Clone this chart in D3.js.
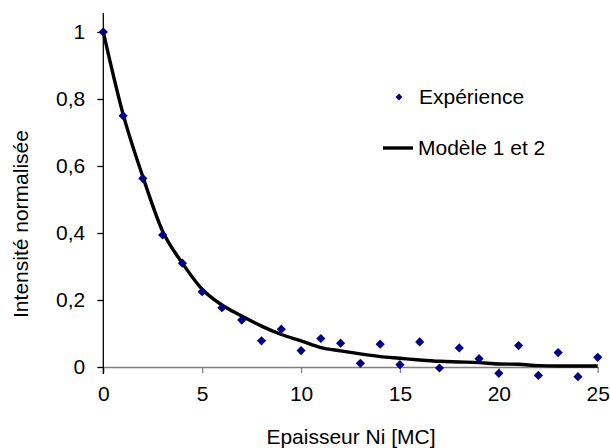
<!DOCTYPE html>
<html>
<head>
<meta charset="utf-8">
<script src="https://cdn.jsdelivr.net/npm/d3@7"></script>
<style>
  body { margin: 0; background: #fff; }
  text { font-family: "Liberation Sans", Arial, sans-serif; fill: #000; }
</style>
</head>
<body>
<svg id="chart" width="610" height="448"></svg>
<script>
// epaisseur en monocouches
const thickness = d3.range(0, 26)
const experience = [1, 0.750, 0.563, 0.394, 0.310, 0.225, 0.177, 0.140, 0.078, 0.113, 0.049, 0.085, 0.071,
    0.011, 0.068, 0.007, 0.075, -0.003, 0.057, 0.025, -0.019, 0.064, -0.025, 0.043, -0.029, 0.029]
const modele = [1, 0.755, 0.568, 0.405, 0.31, 0.232, 0.185, 0.152, 0.122, 0.097, 0.078, 0.058, 0.048,
    0.039, 0.031, 0.026, 0.021, 0.017, 0.015, 0.013, 0.009, 0.008, 0.004, 0.003, 0.003, 0.003]
const xTicks = [0, 5, 10, 15, 20, 25]
const yTicks = [0, 0.2, 0.4, 0.6, 0.8, 1]

const svg = d3.select("#chart")
const fontSize = 21

const x = d3.scaleLinear().domain([0, 25]).range([103.3, 597.7])
const y = d3.scaleLinear().domain([0, 1]).range([367, 32])

const fmt = d => d3.format("~g")(d).replace(".", ",")

// axe x (gris)
const xAxis = svg.append("g")
    .attr("transform", "translate(0," + y(0) + ")")
    .call(d3.axisBottom(x).tickValues(xTicks).tickSizeOuter(0).tickSizeInner(6).tickPadding(13).tickFormat(fmt))
xAxis.select(".domain").attr("stroke", "#808080").attr("stroke-width", 1.3)
xAxis.selectAll(".tick line").attr("stroke", "#808080").attr("stroke-width", 1.3)
xAxis.selectAll(".tick text").style("font-size", fontSize + "px").attr("fill", "#000")

// axe y (noir)
const yAxis = svg.append("g")
    .attr("transform", "translate(" + x(0) + ",0)")
    .call(d3.axisLeft(y).tickValues(yTicks).tickSizeOuter(0).tickSizeInner(6).tickPadding(12).tickFormat(fmt))
yAxis.select(".domain").attr("d", "M0," + 13 + "V" + 374).attr("stroke", "#000").attr("stroke-width", 1.3)
yAxis.selectAll(".tick line").attr("stroke", "#000").attr("stroke-width", 1.3)
yAxis.selectAll(".tick text").style("font-size", fontSize + "px").attr("fill", "#000")

// modele
const line = d3.line()
    .x((d, i) => x(thickness[i]))
    .y(d => y(d))
    .curve(d3.curveMonotoneX)

svg.append("path")
    .datum(modele)
    .attr("d", line)
    .attr("fill", "none")
    .attr("stroke", "#000")
    .attr("stroke-width", 3.4)
    .attr("stroke-linejoin", "round")

// points experimentaux
const diamond = (s) => "M0," + (-s) + "L" + s + ",0L0," + s + "L" + (-s) + ",0Z"

svg.append("g").selectAll("path")
    .data(experience)
    .enter().append("path")
    .attr("transform", (d, i) => "translate(" + x(thickness[i]) + "," + y(d) + ")")
    .attr("d", diamond(4.6))
    .attr("fill", "#000080")

// titres des axes
svg.append("text")
    .attr("x", 351)
    .attr("y", 444)
    .attr("text-anchor", "middle")
    .style("font-size", fontSize + "px")
    .text("Epaisseur Ni [MC]")

svg.append("text")
    .attr("transform", "translate(28,224) rotate(-90)")
    .attr("text-anchor", "middle")
    .style("font-size", fontSize + "px")
    .text("Intensité normalisée")

// legende
const legend = svg.append("g")
legend.append("path")
    .attr("transform", "translate(399,97)")
    .attr("d", diamond(3.4))
    .attr("fill", "#000080")
legend.append("text")
    .attr("x", 419)
    .attr("y", 97)
    .attr("dy", "0.35em")
    .style("font-size", fontSize + "px")
    .text("Expérience")

legend.append("line")
    .attr("x1", 383).attr("x2", 413)
    .attr("y1", 148).attr("y2", 148)
    .attr("stroke", "#000")
    .attr("stroke-width", 3.4)
legend.append("text")
    .attr("x", 418)
    .attr("y", 148)
    .attr("dy", "0.35em")
    .style("font-size", fontSize + "px")
    .text("Modèle 1 et 2")
</script>
</body>
</html>
